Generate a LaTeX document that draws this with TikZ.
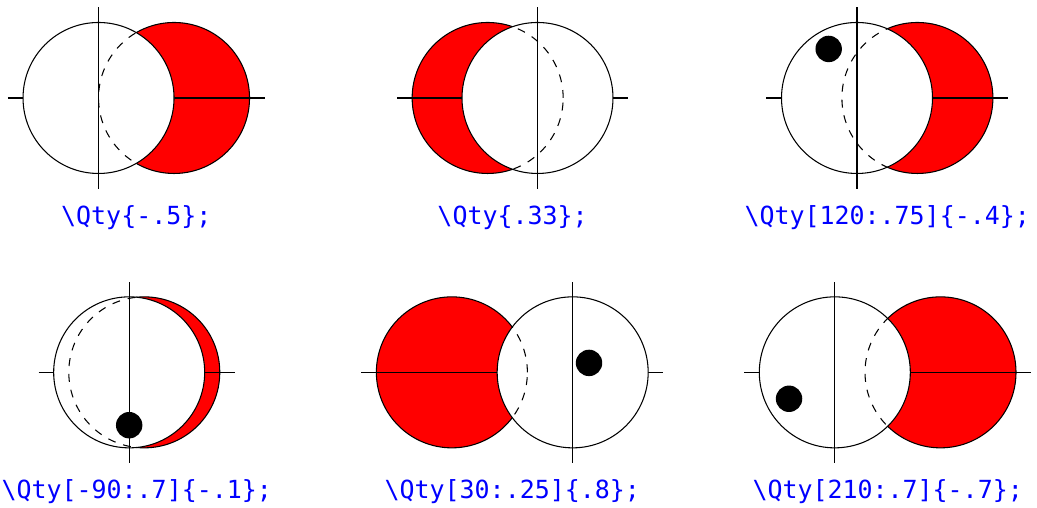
\documentclass[tikz,border=0pt]{standalone}
\usepackage{fontspec}
\newfontfamily\qtyfont{DejaVu Sans Mono}

\begin{document}
\begin{tikzpicture}[qlabel/.style={blue,anchor=base,font=\qtyfont\fontsize{9.4}{11}\selectfont}]
\useasboundingbox (0,0) rectangle (13.735,6.728);

\foreach \cx/\cy/\q/\ang/\dist/\txt [count=\i] in {
    1.305/5.430/-.5/0/0/{\textbackslash Qty\{-.5\};},
    7.119/5.430/.33/0/0/{\textbackslash Qty\{.33\};},
    11.351/5.430/-.4/120/.75/{\textbackslash Qty[120:.75]\{-.4\};},
    1.711/1.796/-.1/-90/.7/{\textbackslash Qty[-90:.7]\{-.1\};},
    7.585/1.796/.8/30/.25/{\textbackslash Qty[30:.25]\{.8\};},
    11.057/1.796/-.7/210/.7/{\textbackslash Qty[210:.7]\{-.7\};}} {
    \pgfmathsetmacro\rx{\cx-2*(\q)}
    \pgfmathsetmacro\xa{min(\cx,\rx)-1.2}
    \pgfmathsetmacro\xb{max(\cx,\rx)+1.2}
    \filldraw[fill=red] (\rx,\cy) circle (1);
    \draw (\xa,\cy) -- (\xb,\cy);
    \filldraw[fill=white] (\cx,\cy) circle (1);
    \begin{scope}
        \clip (\cx,\cy) circle (1);
        \draw[dashed] (\rx,\cy) circle (1);
    \end{scope}
    \draw (\cx,\cy-1.2) -- (\cx,\cy+1.2);
    \ifdim \dist pt>0pt
        \fill (\cx,\cy) ++(\ang:\dist) circle (0.175);
    \fi
    \pgfmathsetmacro\lx{\cx-(\q)}
    \node[qlabel] (lbl\i) at (\lx,\cy-1.67) {\txt};
}
\end{tikzpicture}
\end{document}
